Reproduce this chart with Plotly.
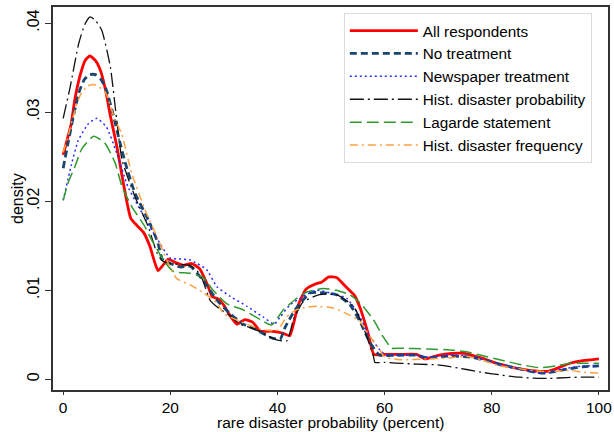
import plotly.graph_objects as go

# ---- data ----
x_red = [0,0.7,1.5,2.2,3.2,4.1,5,6,7,8,8.8,10,11,12,12.6,13.4,15,16.2,17,17.7,18.5,19.6,21,22.5,24,25.5,27,27.8,29,30,31,32.4,33.9,35.4,36.8,38.7,40.9,42.3,43.8,45.3,47.1,48.2,49.6,51.1,52.6,54.4,55.5,56.9,58,60,63,66,67.5,70,72.5,75,78,81.5,85,89,90.5,92,94.6,97,100]
y_red = [.0252,.0268,.0287,.0315,.0342,.0358,.0363,.0358,.0346,.0322,.0296,.0262,.0228,.0196,.0181,.0175,.0165,.0149,.0133,.0122,.0127,.0135,.0131,.0128,.0130,.0124,.0105,.0093,.0090,.0083,.0073,.0062,.0067,.0064,.0054,.0054,.0052,.0049,.0082,.0101,.0107,.0109,.0115,.0114,.0105,.0094,.0079,.0052,.0028,.0028,.0028,.0028,.0023,.0027,.0029,.0029,.0024,.0017,.0012,.0009,.0009,.0012,.0018,.0021,.0023]

x_nav = [0,1,2,3,4,5,6,7,8,9.3,10.5,11.6,13.4,15.9,17.7,18.5,20,22,23.7,26,28.7,31.1,33.6,36,38.7,40.5,41.4,43.3,46.1,48.5,51,53.5,55.4,57.3,59.1,62,66,68,72,76,79,82,85,88,90,92,94.6,97,100]
y_nav = [.0237,.0268,.0298,.0323,.0337,.0342,.0342,.0337,.0326,.0298,.0268,.0243,.0209,.0179,.0153,.0135,.0130,.0126,.0127,.0112,.0089,.0074,.0062,.0056,.0047,.0045,.0058,.0078,.0097,.0097,.0095,.0084,.0065,.0041,.0027,.0027,.0027,.0024,.0026,.0025,.0021,.0016,.0012,.0008,.0007,.0009,.0012,.0014,.0015]

x_blu = [0,1.5,2.8,4.7,6.3,8.1,10,12.1,14.7,17.3,20,22,23.7,25,26.8,28.7,31.2,34.3,37.3,39.4,40.5,42.4,44.8,47.3,49.8,52.9,55,57.3,59.1,60,63,66,68,72,76,79,82,85,88,90,92,94.6,97,100]
y_blu = [.0201,.0240,.0268,.0287,.0293,.0283,.0254,.0216,.0187,.0160,.0136,.0135,.0134,.0130,.0123,.0104,.0093,.0082,.0070,.0062,.0070,.0084,.0093,.0100,.0097,.0091,.0074,.0048,.0033,.0028,.0027,.0027,.0025,.0027,.0026,.0021,.0016,.0012,.0008,.0007,.0010,.0013,.0015,.0015]

x_blk = [0,1.3,2.9,4,5,6,7.2,8.8,10,11,13.4,15.9,17.5,18.5,20,22,23.7,25,26,27.4,29,31,33,35,37,39.4,41.7,43,44.8,47.9,51,54.2,56,57.9,58.2,60,62.9,66,70.3,75.3,78,81.5,84,87.7,90.8,94,97,100]
y_blk = [.0293,.0328,.0377,.0398,.0407,.0403,.0392,.0351,.0291,.0246,.0205,.0171,.0142,.0133,.0130,.0129,.0128,.0122,.0112,.0089,.0080,.0072,.0062,.0058,.0053,.0045,.0043,.0067,.0087,.0095,.0095,.0082,.0059,.0026,.0019,.0019,.0018,.0017,.0016,.0011,.0008,.0005,.0003,.00013,.0001,.0002,.00025,.00025]

x_grn = [0,1,2.2,3.5,5.7,7.8,9.7,11,12.8,15.3,16.2,18.7,20.6,23.7,26.2,28,30.5,33.6,36.8,38.9,41.1,43.6,45.5,48.5,51,53.5,55.4,57.9,59.7,61.3,63,68,72.2,75.3,78,81.5,85,89,92,94.6,97,100]
y_grn = [.0201,.0222,.0239,.0259,.0273,.0265,.0243,.0216,.0194,.0171,.0160,.0134,.0121,.0119,.0114,.0100,.0085,.0078,.0067,.0061,.0078,.0091,.0098,.0102,.0100,.0095,.0086,.0067,.0048,.0035,.0035,.0034,.0033,.0031,.0027,.0022,.0017,.0013,.0015,.0018,.0018,.0018]

x_org = [0,1,2,3.2,4.5,5.7,7.8,9.7,10.9,12.8,15.3,17.8,20,21.2,23.7,26.2,28.7,29.9,33,36,38,40,41.7,43.5,45.5,47.5,50.4,53.5,55.4,57.3,59.1,60,63,68,72.2,75.3,78,81.5,85,89,92,94.6,97,100]
y_org = [.0255,.0275,.0298,.0319,.0329,.0331,.0323,.0291,.0276,.0231,.0190,.0156,.0125,.0113,.0106,.0097,.0086,.0074,.0065,.0058,.0055,.0055,.0070,.0078,.0081,.0082,.0080,.0072,.0065,.0048,.0033,.0025,.0022,.0023,.0024,.0026,.0022,.0015,.0012,.0009,.0009,.0010,.0008,.0007]

names = ["All respondents", "No treatment", "Newspaper treatment",
         "Hist. disaster probability", "Lagarde statement", "Hist. disaster frequency"]

x_ticks = [0, 20, 40, 60, 80, 100]
y_ticks = [0, 0.01, 0.02, 0.03, 0.04]
y_tick_labels = ["0", ".01", ".02", ".03", ".04"]
x_title = "rare disaster probability (percent)"
y_title = "density"

FONT = "Liberation Sans, Arial, Helvetica, sans-serif"

series = [
    (x_red, y_red, dict(color="#ff0000", width=2.8, dash="solid")),
    (x_nav, y_nav, dict(color="#1a476f", width=2.8, dash="7px,4px")),
    (x_blu, y_blu, dict(color="#2a2aff", width=1.5, dash="2px,3px")),
    (x_blk, y_blk, dict(color="#111111", width=1.3, dash="14px,4px,2px,4px")),
    (x_grn, y_grn, dict(color="#2e9a2e", width=1.5, dash="12px,5px")),
    (x_org, y_org, dict(color="#ffa040", width=1.5, dash="8px,4px,2px,4px")),
]

fig = go.Figure()
for (xs, ys, ln), nm in zip(series, names):
    fig.add_trace(go.Scatter(x=xs, y=ys, mode="lines", name=nm,
                             line=dict(shape="spline", smoothing=0.5, **ln)))

fig.update_layout(
    width=614, height=432,
    margin=dict(l=53, r=6, t=7, b=42),
    paper_bgcolor="white", plot_bgcolor="white",
    font=dict(family=FONT, size=16, color="black"),
    showlegend=True,
    legend=dict(x=0.524, y=0.984, xanchor="left", yanchor="top",
                bgcolor="white", bordercolor="#dcdcdc", borderwidth=1,
                font=dict(size=15.3, family=FONT), itemwidth=68,
                tracegroupgap=0),
    annotations=[
        dict(text=x_title, xref="paper", yref="paper", x=0.5, y=-0.1097,
             xanchor="center", yanchor="bottom", showarrow=False,
             borderpad=0, font=dict(size=15.5)),
        dict(text=y_title, xref="paper", yref="paper", x=-0.064, y=0.5,
             xanchor="center", yanchor="middle", showarrow=False, textangle=-90,
             font=dict(size=16)),
    ],
)
fig.update_xaxes(range=[-1.9, 101.7], tickvals=x_ticks, ticks="outside", ticklen=3,
                 tickcolor="#333", showline=True, linecolor="#333", linewidth=1.5,
                 mirror=True, showgrid=False, zeroline=False, automargin=False,
                 tickfont=dict(size=15.5))
fig.update_yaxes(range=[-0.0012, 0.0418], tickvals=y_ticks, ticktext=y_tick_labels,
                 tickangle=-90, ticks="outside", ticklen=6, tickcolor="#333",
                 showline=True, linecolor="#333", linewidth=1.5, mirror=True,
                 showgrid=False, zeroline=False, automargin=False,
                 tickfont=dict(size=16))

fig.write_html("out.html")
